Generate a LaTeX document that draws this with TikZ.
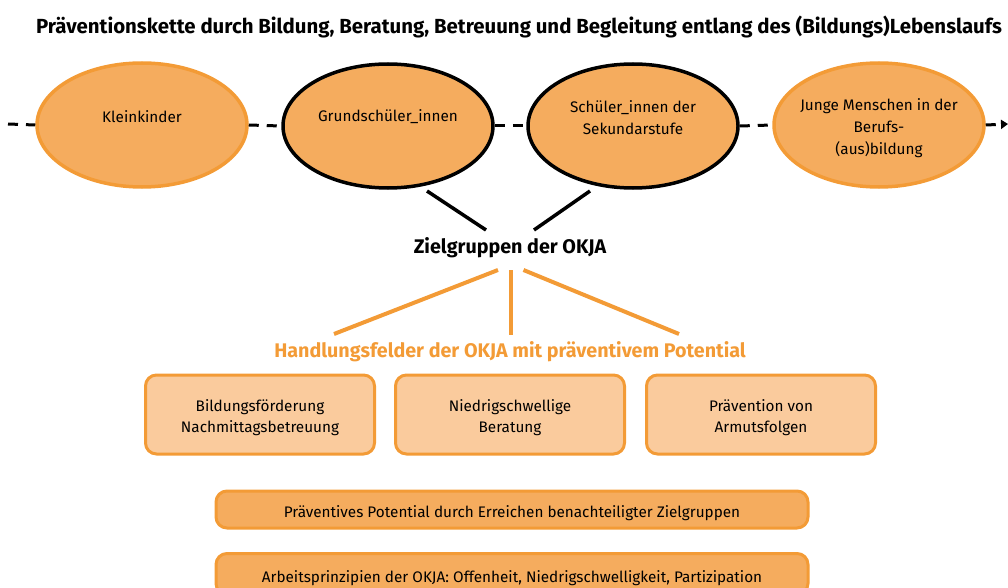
\documentclass[tikz,border=0pt]{standalone}
\usepackage{fontspec}
\setmainfont{Fira Sans}
\usetikzlibrary{shapes.geometric,arrows.meta}
\definecolor{ofill}{HTML}{F5AC5E}
\definecolor{oline}{HTML}{F39B36}
\definecolor{lfill}{HTML}{FACB9D}
\tikzset{
  ell/.style={ellipse, minimum width=210pt, minimum height=124pt, inner sep=0pt, fill=ofill, line width=3.5pt},
  ellor/.style={ell, draw=oline},
  ellbk/.style={ell, draw=black},
  etext/.style={align=center, font=\fontsize{15.3}{22}\selectfont, inner sep=0pt},
  dashline/.style={line width=3pt, dash pattern=on 10pt off 8pt},
  fieldbox/.style={draw=oline, fill=lfill, rounded corners=11pt, line width=3pt, minimum width=229pt, minimum height=79pt, align=center, font=\fontsize{15.3}{21.5}\selectfont, text height=40pt, text depth=4pt},
  widebox/.style={draw=oline, fill=ofill, rounded corners=11pt, line width=3pt, minimum width=592pt, minimum height=37pt, font=\fontsize{15.3}{17}\selectfont, text height=16pt, text depth=0pt},
  blk/.style={line width=3.5pt, black},
  org/.style={line width=4pt, oline},
  head/.style={font=\bfseries\fontsize{19.7}{22}\selectfont, inner sep=0pt},
}
\begin{document}
\begin{tikzpicture}[x=1pt,y=-1pt]
\useasboundingbox (0,0) rectangle (1008,588);
\node[head, font=\bfseries\fontsize{20.4}{22}\selectfont] (title) at (519,27) {Präventionskette durch Bildung, Beratung, Betreuung und Begleitung entlang des (Bildungs)Lebenslaufs};

\coordinate (ls) at (8,124);
\coordinate (le) at (1008,124);
\node[ellor] (k) at (142,125) {};
\node[ellbk] (g) at (388,126) {};
\node[ellbk] (s) at (633,126) {};
\node[ellor] (j) at (879,125) {};
\draw[dashline] (ls) -- (k.west);
\draw[dashline] (k.east) -- (g.west);
\draw[dashline] (g.east) -- (s.west);
\draw[dashline] (s.east) -- (j.west);
\draw[dashline, -{Triangle[length=7pt,width=9pt]}] (j.east) -- (le);
\node[etext] (kt) at (142,117) {Kleinkinder};
\node[etext] (gt) at (388,117) {Grundschüler\_innen};
\node[etext] (st) at (633,118) {Schüler\_innen der\\Sekundarstufe};
\node[etext] (jt) at (879,128.5) {Junge Menschen in der\\Berufs-\\(aus)bildung};

\node[head] (z) at (510,248) {Zielgruppen der OKJA};
\coordinate (b1a) at (427,191);
\coordinate (b1b) at (486,230);
\coordinate (b2a) at (590,191);
\coordinate (b2b) at (534,230);
\draw[blk] (b1a) -- (b1b);
\draw[blk] (b2a) -- (b2b);

\node[head, text=oline] (h) at (510,352) {Handlungsfelder der OKJA mit präventivem Potential};
\coordinate (o1a) at (498,270);
\coordinate (o1b) at (334,334);
\coordinate (o2a) at (510.5,270);
\coordinate (o2b) at (510.5,335);
\coordinate (o3a) at (523.5,270);
\coordinate (o3b) at (679,334);
\draw[org] (o1a) -- (o1b);
\draw[org] (o2a) -- (o2b);
\draw[org] (o3a) -- (o3b);

\node[fieldbox] (f1) at (260,414.5) {Bildungsförderung\\Nachmittagsbetreuung};
\node[fieldbox] (f2) at (510,414.5) {Niedrigschwellige\\Beratung};
\node[fieldbox] (f3) at (761,414.5) {Prävention von\\Armutsfolgen};

\node[widebox] (pa) at (512,509.5) {Präventives Potential durch Erreichen benachteiligter Zielgruppen};
\node[widebox, minimum height=41pt, text height=17pt] (pb) at (512,574) {Arbeitsprinzipien der OKJA: Offenheit, Niedrigschwelligkeit, Partizipation};
\end{tikzpicture}
\end{document}
